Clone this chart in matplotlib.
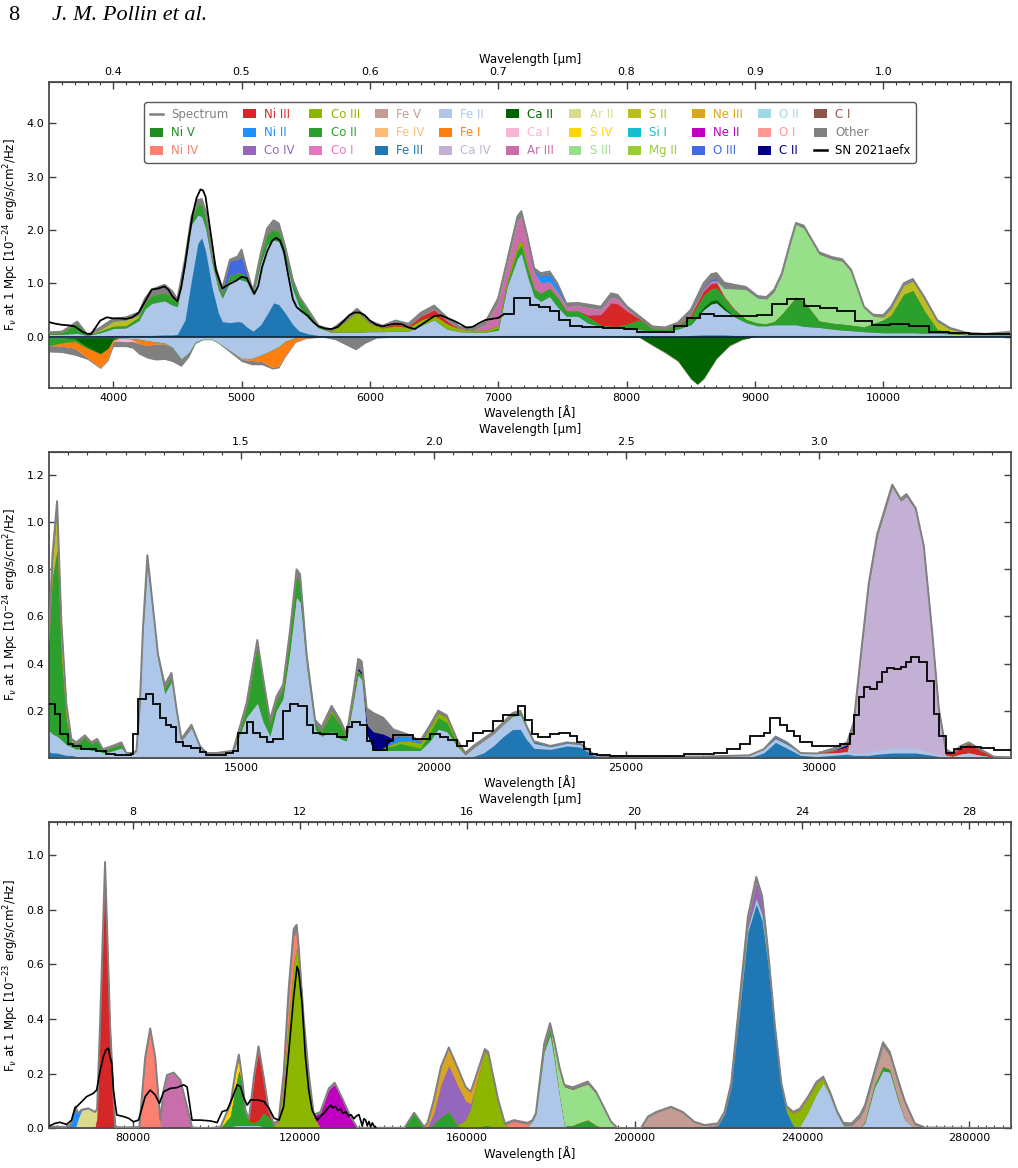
import numpy as np
import matplotlib
matplotlib.use("Agg")
import matplotlib.pyplot as plt
from matplotlib.patches import Patch
from matplotlib.lines import Line2D
from matplotlib.ticker import FixedLocator, FormatStrFormatter

plt.rcParams['font.family'] = ['DejaVu Sans']
plt.rcParams['mathtext.fontset'] = 'dejavusans'

# ---------------- colours (style) ----------------
colors = {
    'Ni V': '#228b22', 'Ni IV': '#fa8072', 'Ni III': '#d62728', 'Ni II': '#1e90ff',
    'Co IV': '#9467bd', 'Co III': '#8db600', 'Co II': '#2ca02c', 'Co I': '#e377c2',
    'Fe V': '#c49c94', 'Fe IV': '#ffbb78', 'Fe III': '#1f77b4', 'Fe II': '#aec7e8',
    'Fe I': '#ff7f0e', 'Ca IV': '#c5b0d5', 'Ca II': '#006400', 'Ca I': '#f7b6d2',
    'Ar III': '#c86eaa', 'Ar II': '#dbdb8d', 'S IV': '#ffd700', 'S III': '#98df8a',
    'S II': '#bcbd22', 'Si I': '#17becf', 'Mg II': '#9acd32', 'Ne III': '#daa520',
    'Ne II': '#c000c0', 'O III': '#4169e1', 'O II': '#9edae5', 'O I': '#ff9896',
    'C II': '#000080', 'C I': '#8c564b', 'Other': '#808080',
}
legend_labels = ['Spectrum', 'Ni V', 'Ni IV', 'Ni III', 'Ni II', 'Co IV', 'Co III', 'Co II',
                 'Co I', 'Fe V', 'Fe IV', 'Fe III', 'Fe II', 'Fe I', 'Ca IV', 'Ca II', 'Ca I',
                 'Ar III', 'Ar II', 'S IV', 'S III', 'S II', 'Si I', 'Mg II', 'Ne III', 'Ne II',
                 'O III', 'O II', 'O I', 'C II', 'C I', 'Other', 'SN 2021aefx']
stack_order = ['Fe III', 'Fe II', 'Ca IV', 'Ca II', 'Co II', 'Co III', 'Ni III', 'Ni IV', 'Co IV',
               'Ne III', 'Ar III', 'S III', 'S II', 'S IV', 'Ar II', 'Ni II', 'O III', 'Ne II',
               'C II', 'Fe V', 'Fe I', 'Ca I', 'Other']

# ================= panel 1 : optical =================
g1 = [3500, 3600, 3720, 3800, 3900, 4000, 4100, 4200, 4250, 4300,
      4400, 4460, 4500, 4560, 4610, 4660, 4690, 4720, 4770, 4820,
      4850, 4910, 4970, 5000, 5040, 5090, 5150, 5200, 5250, 5290,
      5340, 5400, 5450, 5520, 5600, 5700, 5800, 5900, 6000, 6100,
      6200, 6300, 6400, 6500, 6600, 6700, 6800, 6900, 7000, 7070,
      7150, 7180, 7230, 7280, 7330, 7400, 7460, 7530, 7620, 7700,
      7800, 7880, 7930, 8000, 8100, 8200, 8300, 8400, 8500, 8600,
      8660, 8700, 8760, 8840, 8930, 9020, 9090, 9150, 9210, 9280,
      9320, 9380, 9500, 9600, 9680, 9750, 9850, 9920, 10000, 10060,
      10160, 10230, 10320, 10420, 10520, 10650, 10800, 11000]
p1_fe3 = [.01, .01, .01, .005, .01, .02, .02, .02, .02, .02,
          .03, .03, .04, .31, 1.06, 1.75, 1.85, 1.6, .92, .44,
          .28, .26, .28, .27, .18, .1, .22, .42, .63, .6,
          .44, .22, .1, .05, .02, .01, .01, .01, .01, .01,
          .01, .01, .01, .01, .01, .01, .01, .01, .02, .02,
          .02, .02, .02, .02, .02, .02, .02, .02, .02, .02,
          .02, .02, .02, .02, .02, .01, .01, .01, .02, .03,
          .03, .03, .03, .02, .02, .02, .02, .02, .02, .02,
          .02, .02, .02, .02, .02, .02, .02, .02, .02, .02,
          .02, .02, .02, .02, .02, .01, .01, .01]
p1_fe2 = [.03, .03, .05, .015, .06, .13, .14, .28, .5, .6,
          .64, .56, .52, 1.0, 1.04, .53, .4, .43, .46, .44,
          .44, .77, .81, .79, .85, .68, 1.16, 1.3, 1.18, 1.18,
          1.03, .66, .46, .29, .14, .07, .07, .07, .08, .08,
          .09, .09, .2, .3, .13, .08, .07, .07, .1, .92,
          1.45, 1.54, 1.1, .73, .64, .73, .54, .36, .36, .23,
          .17, .15, .14, .13, .11, .08, .09, .13, .2, .47,
          .58, .6, .47, .35, .24, .18, .18, .2, .2, .2,
          .2, .17, .15, .12, .1, .09, .07, .06, .05, .05,
          .05, .05, .04, .04, .03, .02, .02, .02]
p1_co2 = [.02, .03, .18, .005, .03, .04, .04, .06, .12, .14,
          .15, .14, .08, .08, .1, .2, .22, .18, .1, .1,
          .06, .1, .1, .12, .08, 0, .12, .19, .19, .18,
          .15, .15, .15, .12, .02, 0, 0, 0, 0, 0,
          0, 0, 0, 0, 0, 0, 0, 0, .04, .06,
          .15, .15, .15, .14, .15, .15, .18, .1, .1, .12,
          .02, .02, .03, .08, .18, .06, .03, .06, .14, .22,
          .22, .22, .18, .12, .06, .05, .04, .06, .2, .4,
          .5, .47, .12, .11, .11, .1, .09, .16, .24, .33,
          .72, .79, .42, .07, .02, .01, .01, .04]
p1_other = [.02, .02, .04, .005, .04, .05, .05, .05, .08, .12,
            .15, .12, .06, .06, .05, .08, .11, .14, .08, .15,
            .09, .03, .06, .15, .08, .04, .06, .12, .18, .16,
            .07, .03, .04, .04, .02, .03, .05, .06, .05, .03,
            .05, .05, .07, .06, .05, .03, .03, .05, .07, .08,
            .09, .09, .08, .06, .06, .07, .06, .06, .05, .06,
            .05, .08, .07, .05, .05, .04, .04, .06, .07, .09,
            .1, .11, .11, .08, .05, .04, .04, .04, .04, .04,
            .03, .05, .04, .04, .04, .04, .03, .03, .03, .04,
            .04, .04, .04, .03, .02, .01, .01, .02]
p1_ca2 = [(8600, .05), (8660, .06), (8700, .06), (8760, .05)]
p1_co3 = [(5700, .02), (5800, .18), (5900, .38), (6000, .15), (6100, .07), (6200, .1),
          (6300, .07), (6400, .1), (6500, .09), (6600, .1), (6700, .05), (6800, .03),
          (6900, .04), (7000, .04), (7070, .05), (7150, .09), (7180, .1), (7230, .05)]
p1_ni3 = [(6100, .01), (6200, .03), (6300, .02), (6400, .07), (6500, .1), (6600, .05),
          (7700, .03), (7800, .2), (7880, .44), (7930, .42), (8000, .25), (8100, .02),
          (8500, .04), (8600, .08), (8660, .1), (8700, .09), (8760, .02), (8840, .02),
          (9320, .02)]
p1_ar3 = [(6200, .02), (6500, .02), (6600, .02), (6700, .01), (6900, .1), (7000, .45),
          (7070, .3), (7150, .45), (7180, .45), (7230, .45), (7280, .3), (7330, .2),
          (7400, .12), (7460, .1), (7530, .08), (7620, .1), (7700, .14), (7800, .1),
          (7880, .1), (7930, .1), (8000, .04), (8500, .03), (8600, .04), (8660, .05),
          (8700, .05)]
p1_s3 = [(8760, .15), (8840, .38), (8930, .56), (9020, .47), (9090, .46), (9150, .56),
         (9210, .73), (9280, 1.15), (9320, 1.36), (9380, 1.37), (9500, 1.25), (9600, 1.2),
         (9680, 1.18), (9750, 1.0), (9850, .35), (9920, .14), (10000, .03)]
p1_s2 = [(3900, .03), (4000, .09), (4100, .11), (4200, .04), (10000, .03), (10060, .12),
         (10160, .17), (10230, .18), (10320, .22), (10420, .15), (10520, .07), (10650, .02)]
p1_o3 = [(4850, .03), (4910, .28), (4970, .25), (5000, .3), (5040, .06), (5090, .03),
         (8600, .02), (8660, .03), (8700, .03)]
p1_ni2 = [(7280, .03), (7330, .12), (7400, .13), (7460, .1)]

# absorption (below zero) on its own grid
g1n = [3500, 3600, 3700, 3800, 3900, 3960, 4000, 4050, 4100, 4150,
       4200, 4270, 4330, 4400, 4460, 4530, 4590, 4640, 4700, 4770,
       4820, 4900, 5000, 5080, 5160, 5240, 5290, 5340, 5420, 5500,
       5630, 5730, 5890, 5960, 6050, 6200, 7900, 8100, 8200, 8300,
       8400, 8500, 8550, 8600, 8700, 8800, 8900, 9000, 11000]
n1_fe2 = [-.02, -.02, -.02, -.02, -.02, -.02, -.02, -.03, -.03, -.04,
          -.05, -.08, -.1, -.12, -.2, -.42, -.3, -.1, -.05, -.05,
          -.12, -.25, -.41, -.41, -.34, -.25, -.19, -.09, -.02, -.01,
          0, 0, 0, 0, 0, 0, 0, 0, 0, 0,
          0, 0, 0, 0, 0, 0, 0, 0, 0]
n1_other = [-.12, -.12, -.13, -.03, -.02, -.03, -.1, -.1, -.09, -.13,
            -.2, -.24, -.3, -.29, -.27, -.14, -.08, -.03, -.01, -.01,
            -.01, -.03, -.04, -.08, -.06, -.03, -.04, -.03, -.02, -.01,
            -.01, -.06, -.25, -.13, -.03, -.01, -.01, -.01, -.02, -.02,
            -.02, -.02, -.01, -.02, -.02, -.02, -.01, 0, 0]
n1_fe1 = [(3600, -.06), (3700, -.13), (3800, -.18), (3900, -.26), (3960, -.2), (4000, -.04),
          (4150, -.02), (4200, -.08), (4270, -.09), (4330, -.04), (4400, -.02), (5000, -.02),
          (5080, -.04), (5160, -.13), (5240, -.33), (5290, -.36), (5340, -.26), (5420, -.07),
          (5500, -.02)]
n1_ca1 = [(4050, -.06), (4100, -.07), (4150, -.03)]
n1_co2 = [(3500, -.15), (3600, -.1), (3700, -.05), (3800, -.02)]
n1_ca2 = [(3700, -.02), (3800, -.18), (3900, -.3), (3960, -.2), (4000, -.03), (8100, -.01),
          (8200, -.15), (8300, -.29), (8400, -.45), (8500, -.78), (8550, -.89), (8600, -.78),
          (8700, -.4), (8800, -.16), (8900, -.05)]

# observed SN 2021aefx, panel 1
obs1_w = [3500, 3550, 3600, 3650, 3700, 3730, 3760, 3800, 3830, 3860, 3900, 3950, 4000,
          4050, 4100, 4150, 4200, 4230, 4270, 4300, 4350, 4400, 4430, 4460, 4500, 4530,
          4560, 4590, 4620, 4650, 4680, 4700, 4720, 4750, 4780, 4800, 4850, 4880, 4920,
          4960, 5000, 5040, 5070, 5100, 5130, 5160, 5200, 5240, 5270, 5300, 5330, 5360,
          5400, 5430, 5470, 5520, 5560, 5600, 5650, 5700, 5750, 5800, 5840, 5880, 5920,
          5960, 6000, 6050, 6100, 6150, 6200, 6250, 6300, 6350, 6400, 6450, 6500, 6550,
          6600, 6650, 6700, 6750, 6800, 6850, 6900, 6950, 7000, 7040]
obs1_f = [.27, .24, .22, .21, .19, .14, .09, .05, .05, .16, .3, .36, .34,
          .34, .33, .36, .45, .58, .75, .88, .9, .94, .88, .76, .66, .92,
          1.35, 1.85, 2.3, 2.6, 2.76, 2.74, 2.62, 2.1, 1.6, 1.25, .9, .95, 1.0,
          1.05, 1.12, 1.1, .95, .8, .95, 1.3, 1.6, 1.8, 1.85, 1.8, 1.6, 1.2,
          .7, .55, .47, .38, .27, .19, .15, .14, .18, .3, .4, .45, .45,
          .4, .3, .22, .19, .22, .24, .23, .17, .14, .22, .3, .38, .4,
          .35, .3, .24, .17, .18, .25, .31, .33, .35, .41]
obs1_bin_edges = [7040, 7120, 7250, 7315, 7406, 7470, 7560, 7650, 7820, 7980, 8085, 8370,
                  8470, 8575, 8680, 9017, 9134, 9251, 9381, 9510, 9640, 9783, 9913, 10056,
                  10199, 10355, 10511, 10667, 10825, 10990]
obs1_bin_f = [.43, .73, .6, .56, .47, .31, .2, .17, .16, .14, .08, .19, .34, .42, .38,
              .41, .61, .71, .58, .53, .48, .3, .21, .24, .2, .09, .06, .05, .04]

# ================= panel 2 : near-IR =================
g2 = [10000, 10100, 10220, 10330, 10460, 10590, 10720, 10940, 11110, 11260,
      11410, 11590, 11890, 12020, 12190, 12280, 12370, 12450, 12565, 12710,
      12840, 13015, 13190, 13320, 13450, 13710, 13930, 14100, 14360, 14790,
      15140, 15420, 15570, 15750, 15920, 16090, 16270, 16440, 16530, 16700,
      16920, 17090, 17350, 17570, 17740, 17910, 18040, 18130, 18260, 18430,
      18690, 18950, 19130, 19390, 19650, 19910, 20120, 20340, 20600, 20820,
      21030, 21290, 21550, 21810, 22050, 22250, 22400, 22600, 23030, 23460,
      23810, 24150, 24330, 25000, 27000, 28200, 28570, 28880, 29180, 29530,
      29960, 30390, 30740, 30910, 31090, 31300, 31520, 31910, 32130, 32280,
      32520, 32730, 32950, 33120, 33300, 33470, 33690, 33900, 34200, 34550, 35000]
p2_fe2 = [.09, .08, .07, .06, .045, .035, .03, .035, .03, .03,
          .02, .025, .04, .015, .015, .025, .21, .52, .8, .6,
          .41, .27, .32, .19, .07, .125, .04, .012, .012, .022,
          .17, .23, .15, .09, .2, .25, .45, .68, .66, .38,
          .12, .09, .11, .08, .07, .23, .35, .33, .1, .03,
          .03, .03, .03, .03, .03, .07, .12, .11, .05, .01,
          .035, .05, .05, .05, .055, .06, .045, .02, .01, .01,
          .01, .005, .008, .005, .005, .01, .016, .015, .015, .01,
          .013, .01, .01, .01, .01, .01, .015, .02, .02, .02,
          .02, .015, .01, .005, .01, .005, .015, .02, .01, .002, .002]
p2_co2 = [.35, .66, .79, .35, .1, .02, .02, .045, .025, .04,
          .01, .015, .015, 0, 0, 0, 0, .01, .02, .02,
          .01, .02, .02, 0, 0, 0, 0, 0, 0, 0,
          .04, .24, .16, .05, .04, .04, .07, .09, .09, .04,
          .02, .02, .08, .06, .01, .02, .02, .02, 0, 0,
          .01, .02, .03, .02, .01, .04, .05, .04, .01, 0,
          0, 0, 0, 0, .005, .01, 0, 0, 0, 0,
          0, 0, 0, 0, 0, 0, 0, 0, 0, 0,
          0, 0, 0, 0, 0, 0, 0, 0, 0, 0,
          0, 0, 0, 0, 0, 0, 0, 0, 0, 0, 0]
p2_other = [.015, .02, .03, .015, .015, .005, .01, .01, .01, .01,
            .006, .006, .01, .005, .005, .005, .02, .02, .04, .02,
            .02, .02, .02, .02, .01, .015, .01, .008, .008, .008,
            .02, .03, .03, .02, .02, .02, .02, .03, .03, .02,
            .02, .02, .02, .02, .02, .02, .04, .05, .07, .08,
            .07, .04, .02, .005, .005, .01, .01, .01, .01, .01,
            .01, .01, .01, .01, .01, .01, .015, .005, 0, 0,
            0, 0, 0, 0, 0, 0, 0, .005, .005, 0,
            0, .01, .01, .01, .01, .01, .01, .01, .01, .01,
            .01, .01, .01, .01, .006, .005, .005, .005, .006, 0, 0]
p2_fe3 = [(10000, .025), (10100, .02), (10220, .02), (10330, .015), (10460, .01), (10590, .01),
          (10720, .005), (10940, .005), (21030, .005), (21290, .02), (21550, .05), (21810, .09),
          (22050, .12), (22250, .12), (22400, .08), (22600, .04), (23030, .035), (23460, .05),
          (23810, .045), (24150, .01), (28570, .02), (28880, .065), (29180, .04), (29530, .01),
          (29960, .005), (30390, .01), (30740, .015), (30910, .01), (31090, .01), (31300, .01),
          (31520, .015), (31910, .02), (32130, .02), (32280, .02), (32520, .02), (32730, .015),
          (32950, .01), (33120, .005)]
p2_ca4 = [(30910, .12), (31090, .4), (31300, .71), (31520, .91), (31910, 1.11), (32130, 1.05),
          (32280, 1.07), (32520, 1.01), (32730, .86), (32950, .5), (33120, .19)]
p2_co3 = [(17350, .01), (18950, .01), (19130, .01), (19390, .02), (19650, .02), (19910, .02),
          (20120, .02), (20340, .02), (20600, .01)]
p2_ni3 = [(30390, .01), (30740, .02), (33300, .02), (33470, .01), (33690, .03), (33900, .04),
          (34200, .02), (34550, .002)]
p2_s2 = [(10000, .02), (10100, .08), (10220, .18), (10330, .14), (10460, .06), (10590, .01)]
p2_ni2 = [(18950, .02), (19130, .02), (19390, .02), (19650, .005), (22600, .005), (23030, .005),
          (23460, .005), (23810, .005), (28880, .005), (29180, .005)]
p2_c2 = [(18040, .01), (18130, .01), (18260, .04), (18430, .08), (18690, .06), (30740, .01)]

obs2_bin_edges = [10000, 10156, 10286, 10503, 10633, 10850, 11240, 11500, 11716, 12150,
                  12190, 12320, 12540, 12710, 12890, 13060, 13190, 13320, 13490, 13710,
                  13930, 14100, 14620, 14790, 14920, 15140, 15310, 15480, 15660, 15830,
                  16090, 16270, 16480, 16700, 16870, 17050, 17310, 17480, 17740, 17870,
                  18090, 18260, 18430, 18780, 18950, 19470, 19900, 20170, 20380, 20600,
                  20860, 21030, 21290, 21550, 21810, 22200, 22376, 22550, 22720, 23026,
                  23243, 23546, 23720, 23893, 24066, 24240, 24586, 26493, 27273, 27620,
                  27966, 28226, 28573, 28746, 29006, 29180, 29353, 29526, 29830, 30566,
                  30826, 30913, 31043, 31173, 31346, 31520, 31650, 31780, 31953, 32126,
                  32256, 32386, 32603, 32820, 32993, 33123, 33296, 33513, 33686, 34206,
                  34553, 34990]
obs2_bin_f = [.23, .185, .1, .058, .05, .036, .03, .015, .01, .015,
              .1, .25, .27, .23, .17, .14, .13, .065, .05, .04,
              .026, .01, .02, .03, .107, .15, .107, .086, .065, .08,
              .2, .23, .22, .14, .107, .1, .1, .09, .13, .15,
              .14, .072, .032, .07, .097, .08, .1, .086, .075, .05,
              .07, .107, .115, .157, .18, .22, .16, .1, .086, .1,
              .107, .092, .065, .036, .015, .01, .006, .015, .022, .036,
              .058, .093, .107, .17, .14, .115, .093, .065, .05, .06,
              .1, .18, .256, .3, .29, .32, .363, .38, .377, .387,
              .406, .427, .406, .327, .186, .093, .022, .036, .046, .04, .032]

# ================= panel 3 : mid-IR =================
g3 = [60000, 62000, 64000, 65200, 66300, 67000, 67800, 69400, 71000, 71500,
      72200, 73400, 74600, 75800, 78000, 81600, 83000, 84200, 85400, 86600,
      87400, 88200, 89800, 91400, 93000, 94200, 98000, 101000, 103400, 104600,
      105400, 106200, 107000, 107800, 109100, 110100, 111300, 112500, 113700, 114900,
      116100, 117300, 118500, 119200, 119700, 120900, 122100, 123300, 124900, 126900,
      128300, 130100, 132100, 133700, 145000, 147300, 149700, 150500, 152000, 153700,
      155600, 157600, 159600, 160800, 161800, 164200, 165000, 167400, 169000, 171200,
      172400, 174400, 175600, 176400, 178400, 179800, 180800, 182000, 183200, 185200,
      186800, 188800, 190800, 192400, 194400, 196000, 201500, 203200, 205200, 208700,
      211500, 214300, 216700, 219900, 221500, 223100, 225100, 227100, 229100, 230500,
      231900, 233500, 235100, 236300, 237900, 239500, 241500, 243500, 245100, 246700,
      248300, 249900, 251900, 253900, 255100, 257400, 259400, 261000, 263000, 264600,
      267000, 269400, 290000]
p3_other = [.006, .006, .005, .005, .004, 0, .003, 0, 0, 0,
            .02, .035, .02, 0, .003, 0, .01, .016, .01, 0,
            .005, .005, .004, .007, .005, 0, 0, 0, .005, .01,
            .02, .01, .005, .005, .01, .02, .015, .01, .008, .005,
            .01, .03, .03, .025, .025, .02, .01, .005, .005, .006,
            .007, .005, .003, 0, 0, .002, 0, .005, .004, .005,
            .006, .005, .002, .004, .007, .01, .01, .014, .008, .005,
            .006, .005, .005, .005, .02, .025, .02, .016, .009, .01,
            .009, .011, .009, .005, .004, 0, 0, .003, .003, .003,
            .003, .002, .002, .003, .005, .005, .01, .01, .02, .02,
            .013, .01, .01, .007, .005, .007, .006, .005, .007, .008,
            .012, .01, .008, .009, .01, .01, .015, .015, .012, .01,
            .006, .003, 0]
p3_fe3 = [(219900, .01), (221500, .05), (223100, .15), (225100, .43), (227100, .72),
          (229100, .82), (230500, .76), (231900, .6), (233500, .35), (235100, .15),
          (236300, .06), (237900, .01)]
p3_fe2 = [(103400, .005), (104600, .01), (105400, .01), (106200, .01), (107000, .01),
          (107800, .01), (109100, .01), (110100, .01), (111300, .005), (174400, .005),
          (175600, .025), (176400, .05), (178400, .28), (179800, .34), (180800, .25),
          (182000, .12), (183200, .01), (225100, .01), (227100, .015), (229100, .02),
          (230500, .02), (231900, .01), (233500, .01), (239500, .005), (241500, .06),
          (243500, .125), (245100, .165), (246700, .12), (248300, .055), (249900, .01),
          (255100, .02), (257400, .15), (259400, .21), (261000, .205), (263000, .1),
          (264600, .03)]
p3_co2 = [(103400, .04), (104600, .14), (105400, .2), (106200, .14), (107000, .04),
          (107800, .015), (109100, .01), (110100, .02), (111300, .05), (112500, .04),
          (113700, .01), (145000, .002), (147300, .055), (149700, .005), (152000, .015),
          (153700, .04), (155600, .06), (157600, .01), (164200, .01), (165000, .01),
          (178400, .01), (179800, .02), (180800, .01), (185200, .01), (186800, .02),
          (188800, .03), (190800, .01), (255100, .005), (257400, .01), (259400, .015),
          (261000, .01), (263000, .005)]
p3_co3 = [(114900, .02), (116100, .16), (117300, .4), (118500, .6), (119200, .66),
          (119700, .62), (120900, .38), (122100, .19), (123300, .04), (159600, .03),
          (160800, .07), (161800, .14), (164200, .27), (165000, .26), (167400, .09),
          (169000, .01), (235100, .005), (236300, .015), (237900, .045), (239500, .06),
          (241500, .05), (243500, .04), (245100, .017), (246700, .006)]
p3_ni3 = [(71500, .04), (72200, .36), (73400, .94), (74600, .36), (75800, .005),
          (107800, .005), (109100, .17), (110100, .25), (111300, .12), (112500, .02)]
p3_ni4 = [(81600, .005), (83000, .25), (84200, .35), (85400, .25), (86600, .01),
          (114900, .005), (116100, .03), (117300, .08), (118500, .1), (119200, .06),
          (119700, .02), (171200, .025), (172400, .02), (174400, .01)]
p3_co4 = [(150500, .005), (152000, .04), (153700, .12), (155600, .17), (157600, .15),
          (159600, .07), (160800, .02), (221500, .005), (223100, .01), (225100, .02),
          (227100, .03), (229100, .06), (230500, .05), (231900, .03), (233500, .015)]
p3_ne3 = [(150500, .01), (152000, .045), (153700, .06), (155600, .06), (157600, .06),
          (159600, .05), (160800, .04), (161800, .03)]
p3_ar3 = [(86600, .02), (87400, .135), (88200, .19), (89800, .2), (91400, .17),
          (93000, .075), (94200, .003), (214300, .007), (216700, .006), (219900, .005)]
p3_s3 = [(180800, .04), (182000, .09), (183200, .14), (185200, .13), (186800, .13),
         (188800, .13), (190800, .115), (192400, .08), (194400, .02)]
p3_s4 = [(101000, .005), (103400, .04), (104600, .05), (105400, .04), (106200, .02),
         (107000, .01)]
p3_ar2 = [(67000, .035), (67800, .065), (69400, .073), (71000, .06), (71500, .03)]
p3_ni2 = [(65200, .01), (66300, .075), (67000, .02)]
p3_ne2 = [(123300, .005), (124900, .055), (126900, .14), (128300, .16), (130100, .105),
          (132100, .04), (133700, .002)]
p3_fe5 = [(203200, .04), (205200, .057), (208700, .076), (211500, .057), (214300, .015),
          (216700, .004), (251900, .01), (253900, .04), (255100, .05), (257400, .04),
          (259400, .075), (261000, .05), (263000, .06), (264600, .06), (267000, .012)]

obs3_w = [60000, 61400, 62600, 64200, 65400, 66200, 67400, 69000, 70600, 71400,
          72200, 73000, 73600, 74200, 74600, 75000, 75400, 76200, 77800, 79000,
          80200, 81400, 83000, 84200, 85400, 86400, 87400, 89000, 90600, 92200,
          93000, 94200, 96200, 98600, 100200, 101400, 102600, 103800, 105000, 105800,
          106600, 107400, 108200, 109800, 111400, 112600, 113800, 115000, 116100, 117300,
          118500, 119300, 119700, 120500, 121300, 122100, 122900, 124100, 125000, 125700,
          126500, 127300, 127900, 128500, 129100, 129700, 130300, 131000, 131600, 132200,
          132900, 133500, 134100, 134500, 134900, 135300, 135700, 136100, 136500, 136900,
          137300, 137700, 138100]
obs3_f = [.008, .018, .022, .014, .03, .073, .091, .116, .128, .14,
          .21, .262, .287, .293, .262, .238, .14, .049, .043, .037,
          .024, .03, .116, .14, .122, .091, .134, .146, .149, .159,
          .152, .03, .03, .027, .021, .061, .067, .11, .159, .152,
          .11, .085, .104, .104, .098, .073, .037, .03, .079, .275,
          .482, .592, .574, .458, .262, .14, .067, .03, .045, .055,
          .07, .085, .075, .08, .065, .07, .055, .06, .045, .05,
          .035, .045, .05, .03, .008, .035, .03, .01, .025, .005,
          .02, .008, .003]

# tick positions
p1_xticks = [4000, 5000, 6000, 7000, 8000, 9000, 10000]
p1_top_ticks = [0.4, 0.5, 0.6, 0.7, 0.8, 0.9, 1.0]
p2_xticks = [15000, 20000, 25000, 30000]
p2_top_ticks = [1.5, 2.0, 2.5, 3.0]
p3_xticks = [80000, 120000, 160000, 200000, 240000, 280000]
p3_top_ticks = [8, 12, 16, 20, 24, 28]


def on_grid(grid, pairs):
    vals = np.zeros(len(grid))
    pos = {w: i for i, w in enumerate(grid)}
    for w, v in pairs:
        vals[pos[w]] = v
    return vals


def draw_stack(ax, grid, layers):
    # cumulative fills drawn outermost first, so no seams between layers
    names = [n for n in stack_order if n in layers]
    cum = []
    run = np.zeros(len(grid))
    for n in names:
        run = run + np.asarray(layers[n], dtype=float)
        cum.append(run.copy())
    for n, c in reversed(list(zip(names, cum))):
        ax.fill_between(grid, 0, c, color=colors[n], lw=0, zorder=2)
    return run


def minor_range(lo, hi, step):
    n0 = int(np.ceil(lo / step - 1e-9))
    n1 = int(np.floor(hi / step + 1e-9))
    return [k * step for k in range(n0, n1 + 1)]


def style_axis(ax, xlim, ylim, xticks, xminor, yticks, top_ticks, top_minor, ylab):
    ax.set_xlim(*xlim)
    ax.set_ylim(*ylim)
    ax.xaxis.set_major_locator(FixedLocator(xticks))
    ax.xaxis.set_minor_locator(FixedLocator(minor_range(xlim[0], xlim[1], xminor)))
    ax.set_yticks(yticks)
    ax.yaxis.set_major_formatter(FormatStrFormatter('%.1f'))
    ax.tick_params(axis='both', which='both', direction='in', labelsize=8,
                   top=False, right=True, color='0.25')
    ax.tick_params(which='major', length=5, width=1)
    ax.tick_params(which='minor', length=2.5, width=0.8)
    for s in ax.spines.values():
        s.set_color('0.3')
        s.set_linewidth(1.3)
    ax.set_xlabel('Wavelength [Å]', fontsize=8.5, labelpad=2)
    ax.set_ylabel(ylab, fontsize=8.5, labelpad=4)
    sec = ax.secondary_xaxis('top', functions=(lambda x: x / 1e4, lambda x: x * 1e4))
    sec.xaxis.set_major_locator(FixedLocator(top_ticks))
    sec.xaxis.set_minor_locator(FixedLocator(minor_range(xlim[0] / 1e4, xlim[1] / 1e4, top_minor)))
    sec.tick_params(axis='x', which='both', direction='in', labelsize=8, color='0.25')
    sec.tick_params(which='major', length=5, width=1)
    sec.tick_params(which='minor', length=2.5, width=0.8)
    sec.set_xlabel('Wavelength [μm]', fontsize=8.5, labelpad=3)
    return sec


fig = plt.figure(figsize=(10.18, 11.68), dpi=100)
ax1 = fig.add_axes([0.04813, 0.66807, 0.94499, 0.26199])
ax2 = fig.add_axes([0.04813, 0.35128, 0.94499, 0.26199])
ax3 = fig.add_axes([0.04813, 0.03399, 0.94499, 0.26199])

# ---- panel 1
lay1 = {'Fe III': p1_fe3, 'Fe II': p1_fe2, 'Co II': p1_co2, 'Other': p1_other,
        'Ca II': on_grid(g1, p1_ca2), 'Co III': on_grid(g1, p1_co3),
        'Ni III': on_grid(g1, p1_ni3), 'Ar III': on_grid(g1, p1_ar3),
        'S III': on_grid(g1, p1_s3), 'S II': on_grid(g1, p1_s2),
        'O III': on_grid(g1, p1_o3), 'Ni II': on_grid(g1, p1_ni2)}
top1 = draw_stack(ax1, g1, lay1)
neg1 = {'Fe II': n1_fe2, 'Fe I': on_grid(g1n, n1_fe1), 'Ca I': on_grid(g1n, n1_ca1),
        'Co II': on_grid(g1n, n1_co2), 'Ca II': on_grid(g1n, n1_ca2), 'Other': n1_other}
draw_stack(ax1, g1n, neg1)
ax1.plot(g1, top1, color='0.5', lw=1.4, zorder=3)
ax1.axhline(0, color='#0d2236', lw=1.2, zorder=3)
ax1.plot(obs1_w, obs1_f, color='k', lw=1.3, zorder=4)
ax1.stairs(obs1_bin_f, obs1_bin_edges, baseline=None, color='k', lw=1.3, zorder=4)
style_axis(ax1, (3500, 10995), (-0.96, 4.78), p1_xticks, 100, [0, 1, 2, 3, 4],
           p1_top_ticks, 0.01, r'F$_\nu$ at 1 Mpc [10$^{-24}$ erg/s/cm$^2$/Hz]')

# ---- panel 2
lay2 = {'Fe III': on_grid(g2, p2_fe3), 'Fe II': p2_fe2, 'Ca IV': on_grid(g2, p2_ca4),
        'Co II': p2_co2, 'Co III': on_grid(g2, p2_co3), 'Ni III': on_grid(g2, p2_ni3),
        'S II': on_grid(g2, p2_s2), 'Ni II': on_grid(g2, p2_ni2), 'C II': on_grid(g2, p2_c2),
        'Other': p2_other}
top2 = draw_stack(ax2, g2, lay2)
ax2.plot(g2, top2, color='0.5', lw=1.4, zorder=3)
ax2.stairs(obs2_bin_f, obs2_bin_edges, baseline=None, color='k', lw=1.3, zorder=4)
style_axis(ax2, (10010, 34995), (0.0, 1.30), p2_xticks, 500, [0.2, 0.4, 0.6, 0.8, 1.0, 1.2],
           p2_top_ticks, 0.05, r'F$_\nu$ at 1 Mpc [10$^{-24}$ erg/s/cm$^2$/Hz]')

# ---- panel 3
lay3 = {'Fe III': on_grid(g3, p3_fe3), 'Fe II': on_grid(g3, p3_fe2), 'Co II': on_grid(g3, p3_co2),
        'Co III': on_grid(g3, p3_co3), 'Ni III': on_grid(g3, p3_ni3), 'Ni IV': on_grid(g3, p3_ni4),
        'Co IV': on_grid(g3, p3_co4), 'Ne III': on_grid(g3, p3_ne3), 'Ar III': on_grid(g3, p3_ar3),
        'S III': on_grid(g3, p3_s3), 'S IV': on_grid(g3, p3_s4), 'Ar II': on_grid(g3, p3_ar2),
        'Ni II': on_grid(g3, p3_ni2), 'Ne II': on_grid(g3, p3_ne2), 'Fe V': on_grid(g3, p3_fe5),
        'Other': p3_other}
top3 = draw_stack(ax3, g3, lay3)
ax3.plot(g3, top3, color='0.5', lw=1.4, zorder=3)
ax3.plot(obs3_w, obs3_f, color='k', lw=1.2, zorder=4)
style_axis(ax3, (60000, 290000), (0.0, 1.12), p3_xticks, 2000, [0, 0.2, 0.4, 0.6, 0.8, 1.0],
           p3_top_ticks, 0.2, r'F$_\nu$ at 1 Mpc [10$^{-23}$ erg/s/cm$^2$/Hz]')

# ---- legend
handles = []
for lab in legend_labels:
    if lab == 'Spectrum':
        handles.append(Line2D([], [], color='0.5', lw=1.8))
    elif lab == 'SN 2021aefx':
        handles.append(Line2D([], [], color='k', lw=1.8))
    else:
        handles.append(Patch(facecolor=colors[lab], edgecolor='none'))
leg = ax1.legend(handles, legend_labels, ncol=11, loc='upper center',
                 bbox_to_anchor=(0.5, 0.932), borderaxespad=0, fontsize=8.5,
                 handlelength=1.1, handleheight=0.8, handletextpad=0.7,
                 columnspacing=1.25, labelspacing=0.45, frameon=True, fancybox=True,
                 framealpha=1, edgecolor='0.35', borderpad=0.45)
leg.get_frame().set_linewidth(1.0)
for txt, lab in zip(leg.get_texts(), legend_labels):
    if lab == 'Spectrum':
        txt.set_color('0.5')
    elif lab == 'SN 2021aefx':
        txt.set_color('k')
    else:
        txt.set_color(colors[lab])

# ---- page header
fig.text(8 / 1018, 1 - 15 / 1168, '8', fontsize=16, family='Liberation Serif', va='center')
fig.text(52 / 1018, 1 - 15 / 1168, 'J. M. Pollin et al.', fontsize=16,
         family='Liberation Serif', style='italic', va='center')

fig.savefig('out.png', dpi=100)
